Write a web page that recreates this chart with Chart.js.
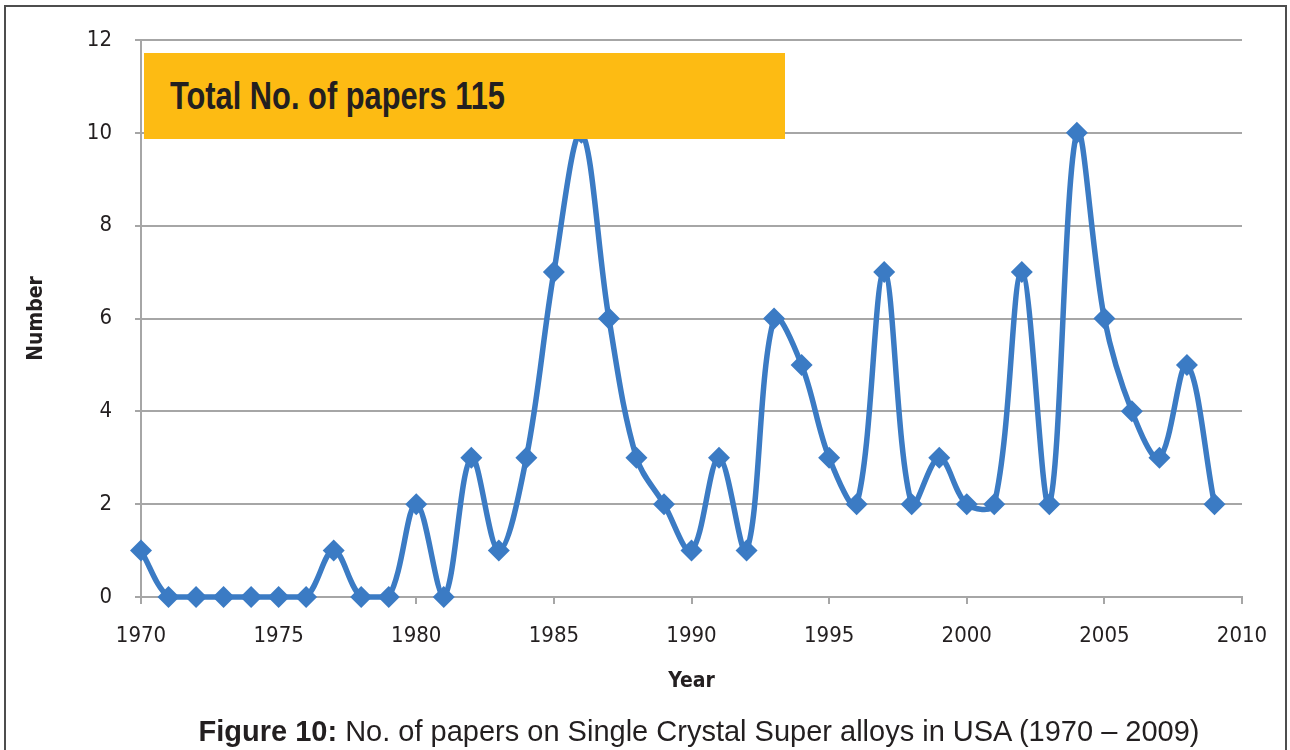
<!DOCTYPE html>
<html>
<head>
<meta charset="utf-8">
<script src="https://cdn.jsdelivr.net/npm/chart.js@4/dist/chart.umd.min.js"></script>
<style>
  html, body { margin: 0; padding: 0; background: #fff; }
  #wrap { position: relative; width: 1290px; height: 750px; overflow: hidden; }
  #frame { position: absolute; left: 4px; top: 5px; width: 1283px; height: 770px; border: 2px solid #4d4d4d; box-sizing: border-box; pointer-events: none; }
  canvas { position: absolute; left: 0; top: 0; }
  #badge { position: absolute; left: 144px; top: 53px; width: 641px; height: 86px; background: #FDBB13; overflow: hidden; }
  #badge span { position: absolute; left: 26px; top: 0; line-height: 86px; white-space: nowrap;
           font-family: "Liberation Sans", Arial, sans-serif; font-weight: bold;
           font-size: 39px; color: #231f20; transform: scaleX(0.79); transform-origin: left center; }
  #caption { position: absolute; left: 0; width: 1400px; top: 715px; text-align: center; margin-left: -1px; white-space: nowrap;
             font-family: "Liberation Sans", Arial, sans-serif; font-size: 29px; color: #231f20; }
</style>
</head>
<body>
<div id="wrap">
  <canvas id="c" width="1290" height="750"></canvas>
  <div id="badge"><span>Total No. of papers 115</span></div>
  <div id="caption"><b>Figure 10:</b> No. of papers on Single Crystal Super alloys in USA (1970 – 2009)</div>
  <div id="frame"></div>
</div>
<script>
const years = [1970,1971,1972,1973,1974,1975,1976,1977,1978,1979,
               1980,1981,1982,1983,1984,1985,1986,1987,1988,1989,
               1990,1991,1992,1993,1994,1995,1996,1997,1998,1999,
               2000,2001,2002,2003,2004,2005,2006,2007,2008,2009];
const papers = [1,0,0,0,0,0,0,1,0,0,
                2,0,3,1,3,7,10,6,3,2,
                1,3,1,6,5,3,2,7,2,3,
                2,2,7,2,10,6,4,3,5,2];
const xTicks = [1970,1975,1980,1985,1990,1995,2000,2005,2010];
const yTicks = [0,2,4,6,8,10,12];

const tickFont = { family: '"DejaVu Sans Condensed", "Liberation Sans", sans-serif', size: 22 };
const titleFont = { family: '"DejaVu Sans Condensed", "Liberation Sans", sans-serif', size: 21, weight: 'bold' };

new Chart(document.getElementById('c'), {
  type: 'line',
  data: {
    datasets: [{
      data: years.map((y, i) => ({ x: y, y: papers[i] })),
      borderColor: '#3B7BC4',
      backgroundColor: '#3B7BC4',
      borderWidth: 5.5,
      pointStyle: 'rectRot',
      pointRadius: 11,
      pointBorderWidth: 0,
      tension: 0.35,
      clip: false
    }]
  },
  options: {
    responsive: false,
    animation: false,
    events: [],
    layout: { padding: { left: 20, top: 40, right: 48, bottom: 52 } },
    plugins: { legend: { display: false }, tooltip: { enabled: false } },
    scales: {
      x: {
        type: 'linear',
        min: 1970, max: 2010,
        afterBuildTicks: s => { s.ticks = xTicks.map(v => ({ value: v })); },
        afterFit: s => { s.height = 101; },
        ticks: { font: tickFont, color: '#231f20', padding: 19, maxRotation: 0, callback: v => String(v) },
        grid: { drawOnChartArea: false, drawTicks: true, tickLength: 7, color: '#a6a6a6', lineWidth: 2 },
        border: { color: '#a6a6a6', width: 2 },
        title: { display: true, text: 'Year', font: titleFont, color: '#231f20' }
      },
      y: {
        min: 0, max: 12,
        afterBuildTicks: s => { s.ticks = yTicks.map(v => ({ value: v })); },
        afterFit: s => { s.width = 121; },
        ticks: { font: tickFont, color: '#231f20', padding: 23 },
        grid: { color: '#a6a6a6', lineWidth: 2, tickLength: 6 },
        border: { color: '#a6a6a6', width: 2 },
        title: { display: true, text: 'Number', font: titleFont, color: '#231f20' }
      }
    }
  }
});
</script>
</body>
</html>
